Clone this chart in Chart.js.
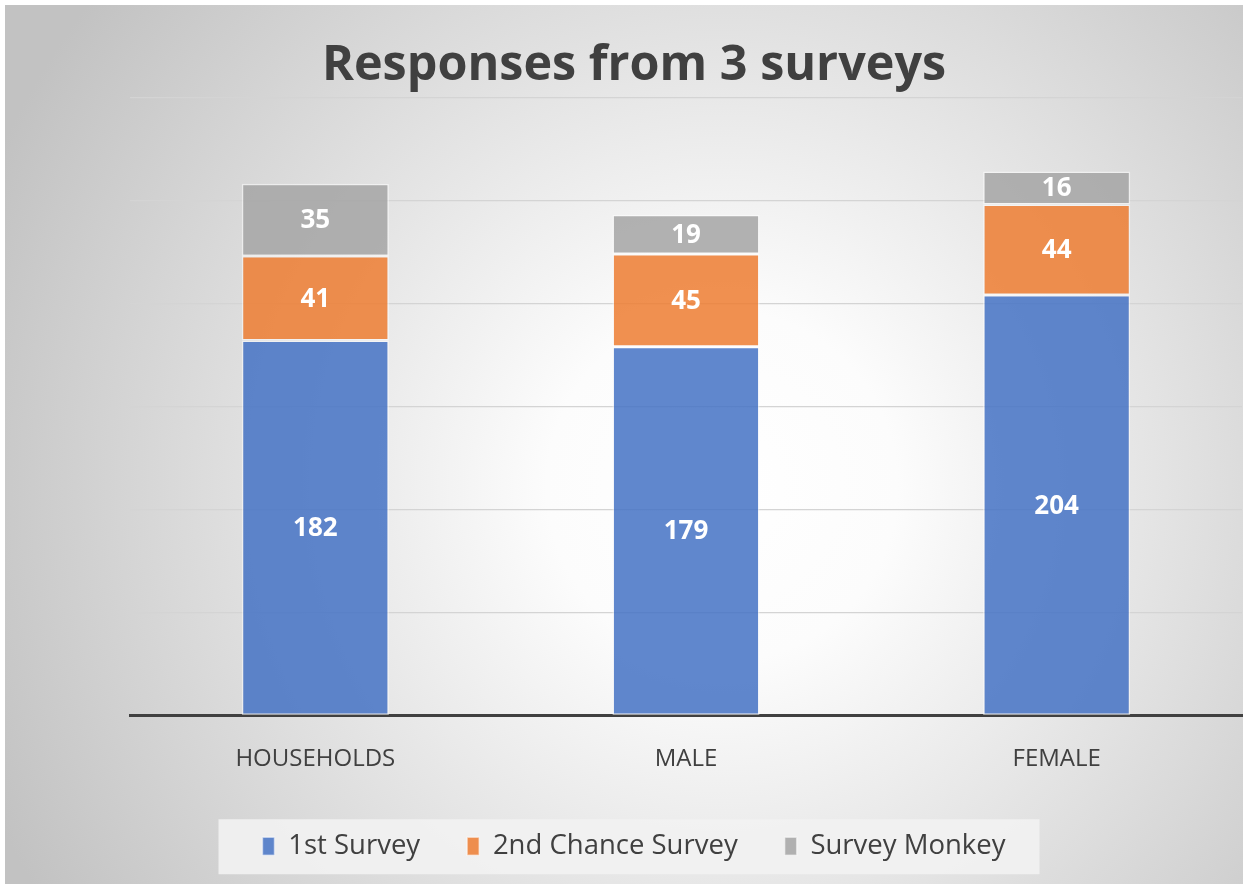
<!DOCTYPE html>
<html>
<head>
    <title>Responses from 3 surveys</title>
    <script src="https://cdn.jsdelivr.net/npm/chart.js"></script>
    <style>
        html, body { margin: 0; padding: 0; background: #ffffff; }
        #wrap { position: relative; width: 1245px; height: 884px; }
    </style>
</head>
<body>

<div id="wrap"><canvas id="myChart"></canvas></div>

<script>
    // categories and series
    const categories = ['HOUSEHOLDS', 'MALE', 'FEMALE'];
    const firstSurvey = [182, 179, 204];
    const secondChance = [41, 45, 44];
    const surveyMonkey = [35, 19, 16];
    const seriesNames = ['1st Survey', '2nd Chance Survey', 'Survey Monkey'];

    const FONT = "'Open Sans', 'DejaVu Sans', sans-serif";

    // background: radial grey gradient + legend panel
    const backdrop = {
        id: 'backdrop',
        beforeDraw(chart) {
            const c = chart.ctx;
            const w = chart.width, h = chart.height;
            c.save();
            c.fillStyle = '#ffffff';
            c.fillRect(0, 0, w, h);
            const g = c.createRadialGradient(w * 0.58, h * 0.55, 0, w * 0.58, h * 0.55, w * 0.64);
            g.addColorStop(0, '#ffffff');
            g.addColorStop(0.22, '#fcfcfc');
            g.addColorStop(1, '#c2c2c2');
            c.fillStyle = g;
            c.fillRect(5, 5, w - 7, h - 5);

            // legend panel
            const boxes = chart.legend.legendHitBoxes;
            if (boxes && boxes.length) {
                const first = boxes[0], last = boxes[boxes.length - 1];
                const x0 = first.left - 44;
                const x1 = last.left + last.width + 34;
                const cy = first.top + first.height / 2;
                c.fillStyle = 'rgba(242,242,242,0.9)';
                c.fillRect(x0, cy - 27, x1 - x0, 55);
            }
            c.restore();
        }
    };

    // value labels in the middle of each segment
    const segmentLabels = {
        id: 'segmentLabels',
        afterDatasetsDraw(chart) {
            const c = chart.ctx;
            c.save();
            c.fillStyle = '#ffffff';
            c.font = 'bold 26px ' + FONT;
            c.textAlign = 'center';
            c.textBaseline = 'middle';
            chart.data.datasets.forEach((ds, i) => {
                const meta = chart.getDatasetMeta(i);
                meta.data.forEach((bar, j) => {
                    const p = bar.getProps(['x', 'y', 'base'], true);
                    c.fillText(ds.data[j], p.x, (p.y + p.base) / 2 + 1);
                });
            });
            c.restore();
        }
    };

    const barBorder = 'rgba(255,255,255,0.5)';

    const data = {
        labels: categories,
        datasets: [{
            label: seriesNames[0],
            data: firstSurvey,
            backgroundColor: 'rgba(68,114,196,0.85)',
            borderColor: barBorder,
            borderWidth: 1.5,
            borderSkipped: false
        }, {
            label: seriesNames[1],
            data: secondChance,
            backgroundColor: 'rgba(237,125,49,0.85)',
            borderColor: barBorder,
            borderWidth: 1.5,
            borderSkipped: false
        }, {
            label: seriesNames[2],
            data: surveyMonkey,
            backgroundColor: 'rgba(165,165,165,0.85)',
            borderColor: barBorder,
            borderWidth: 1.5,
            borderSkipped: false
        }]
    };

    const config = {
        type: 'bar',
        data: data,
        options: {
            responsive: true,
            maintainAspectRatio: false,
            animation: false,
            layout: {
                padding: { left: 26, right: 3, top: 0, bottom: 14 }
            },
            datasets: {
                bar: { barPercentage: 1, categoryPercentage: 0.397 }
            },
            scales: {
                x: {
                    stacked: true,
                    grid: { display: false },
                    border: { display: true, color: '#404040', width: 3 },
                    ticks: {
                        color: '#404040',
                        font: { family: FONT, size: 24 },
                        padding: 21
                    },
                    afterFit(scale) { scale.height -= 9; }
                },
                y: {
                    stacked: true,
                    min: 0,
                    max: 300,
                    ticks: { display: false, stepSize: 50 },
                    border: { display: false },
                    grid: { color: '#d4d4d4', lineWidth: 1.2, drawTicks: false },
                    afterFit(scale) { scale.width = 104; }
                }
            },
            plugins: {
                title: {
                    display: true,
                    text: 'Responses from 3 surveys',
                    color: '#404040',
                    font: { family: FONT, size: 48.5, weight: 'bold' },
                    padding: { top: 37, bottom: 2 }
                },
                legend: {
                    position: 'bottom',
                    labels: {
                        color: '#404040',
                        font: { family: FONT, size: 27.5 },
                        boxWidth: 12,
                        boxHeight: 18,
                        padding: 47
                    }
                },
                tooltip: { enabled: false }
            }
        },
        plugins: [backdrop, segmentLabels]
    };

    window.onload = function() {
        const ctx = document.getElementById('myChart').getContext('2d');
        new Chart(ctx, config);
    };
</script>

</body>
</html>
